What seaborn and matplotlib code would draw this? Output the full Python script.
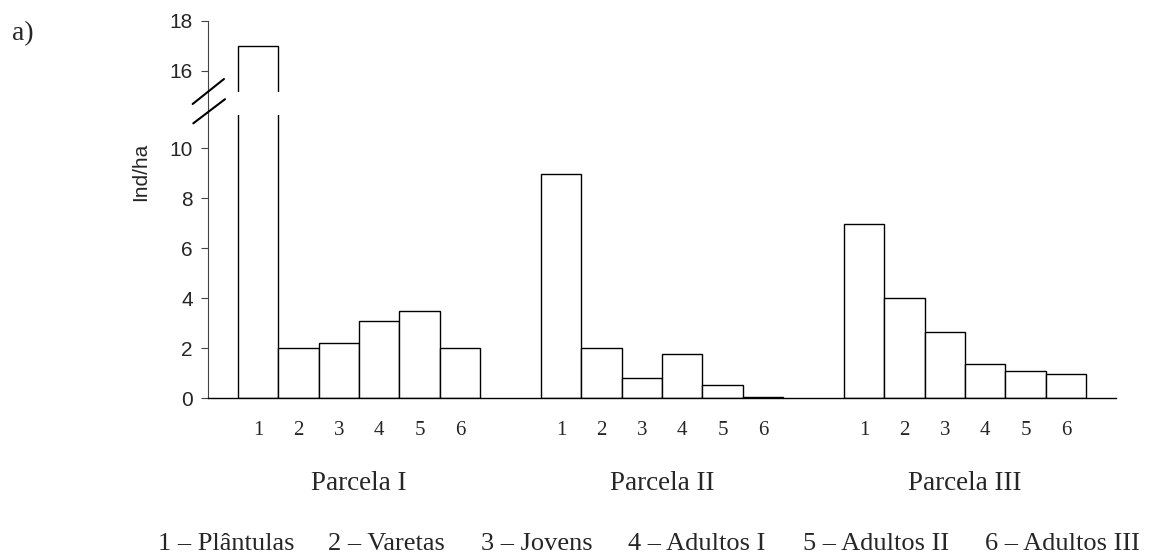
import numpy as np
import pandas as pd
import matplotlib
matplotlib.use("Agg")
import matplotlib.pyplot as plt
import matplotlib.transforms as mtransforms
import seaborn as sns

# ---------------- data ----------------
parcelas = ["Parcela I", "Parcela II", "Parcela III"]
classes = ["1", "2", "3", "4", "5", "6"]
class_names = ["Plântulas", "Varetas", "Jovens", "Adultos I", "Adultos II", "Adultos III"]
parcela_I = [17.0, 2.0, 2.23, 3.1, 3.5, 2.0]
parcela_II = [8.96, 2.0, 0.8, 1.77, 0.54, 0.07]
parcela_III = [6.96, 4.0, 2.64, 1.36, 1.11, 0.97]
y_ticks = [0, 2, 4, 6, 8, 10, 16, 18]

# ---------------- layout ----------------
GROUP_STEP = 7.5  # 6 bars + gap of 1.5 bar widths
rows = []
for g, (name, vals) in enumerate(zip(parcelas, [parcela_I, parcela_II, parcela_III])):
    for i, (c, v) in enumerate(zip(classes, vals)):
        rows.append({"parcela": name, "classe": c, "valor": v, "pos": g * GROUP_STEP + i})
df = pd.DataFrame(rows)

sns.set_theme(style="white")
plt.rcParams["font.family"] = ["Liberation Sans", "DejaVu Sans"]

fig = plt.figure(figsize=(11.5, 5.59), dpi=100)
ax = fig.add_axes([208 / 1150, 1 - 398.3 / 559, (1116 - 208) / 1150, (398.3 - 20.7) / 559])

# broken axis scale: values between 11.5 and 15 are compressed
B0, B1, S1 = 11.5, 15.0, 12.1
k = (S1 - B0) / (B1 - B0)


def fwd(y):
    y = np.asarray(y, dtype=float)
    return np.where(y <= B0, y, np.where(y >= B1, y - (B1 - S1), B0 + (y - B0) * k))


def inv(s):
    s = np.asarray(s, dtype=float)
    return np.where(s <= B0, s, np.where(s >= S1, s + (B1 - S1), B0 + (s - B0) / k))


ax.set_yscale("function", functions=(fwd, inv))

sns.barplot(data=df, x="pos", y="valor", native_scale=True, color="white",
            saturation=1, edgecolor="black", linewidth=1.0, width=1.0,
            errorbar=None, ax=ax)

ax.set_ylim(0, 18)
ax.set_xlim(-1.24, 2 * GROUP_STEP + 5 + 1.24)
ax.set_yticks(y_ticks)
ax.set_yticklabels([str(t) for t in y_ticks])
ax.set_xticks(df["pos"].tolist())
ax.set_xticklabels(df["classe"].tolist(), fontfamily="Liberation Serif", fontsize=15)
ax.tick_params(axis="x", length=0, pad=16)
ax.tick_params(axis="y", length=5, width=0.8, color="#444444", direction="out",
               pad=6, labelsize=15, left=True)
ax.set_xlabel("")
ax.set_ylabel("")

for side in ["top", "right"]:
    ax.spines[side].set_visible(False)
ax.spines["left"].set_color("#444444")
ax.spines["left"].set_linewidth(0.8)
ax.spines["bottom"].set_color("black")
ax.spines["bottom"].set_linewidth(1.0)

# gap in the broken bar
ax.axhspan(11.33, 15.16, xmin=0.005, xmax=0.3, color="white", zorder=2, lw=0)

# break marks on the axis
for (x0, y0, x1, y1) in [(-0.0169, 0.7794, 0.0176, 0.8456), (-0.0162, 0.7282, 0.0187, 0.7921)]:
    ax.plot([x0, x1], [y0, y1], transform=ax.transAxes, color="black", lw=1.5,
            clip_on=False, zorder=5)

# group labels
trans = mtransforms.blended_transform_factory(ax.transData, fig.transFigure)
for g, name in enumerate(parcelas):
    ax.text(g * GROUP_STEP + 2.5, 1 - 490 / 559, name, transform=trans, ha="center",
            va="baseline", fontfamily="Liberation Serif", fontsize=19.5)

# y label and panel letter
fig.text(141 / 1150, 1 - 172 / 559, "Ind/ha", rotation=90, ha="center", va="center",
         fontsize=15, fontfamily="Liberation Sans")
fig.text(12 / 1150, 1 - 40 / 559, "a)", ha="left", va="baseline",
         fontfamily="Liberation Serif", fontsize=20)

# class legend line
legend_x = [158, 328, 481, 628, 803, 985]
for xpx, c, nm in zip(legend_x, classes, class_names):
    fig.text(xpx / 1150, 1 - 550 / 559, f"{c} – {nm}", ha="left", va="baseline",
             fontfamily="Liberation Serif", fontsize=19)

fig.savefig("out.png", dpi=100, facecolor="white")
